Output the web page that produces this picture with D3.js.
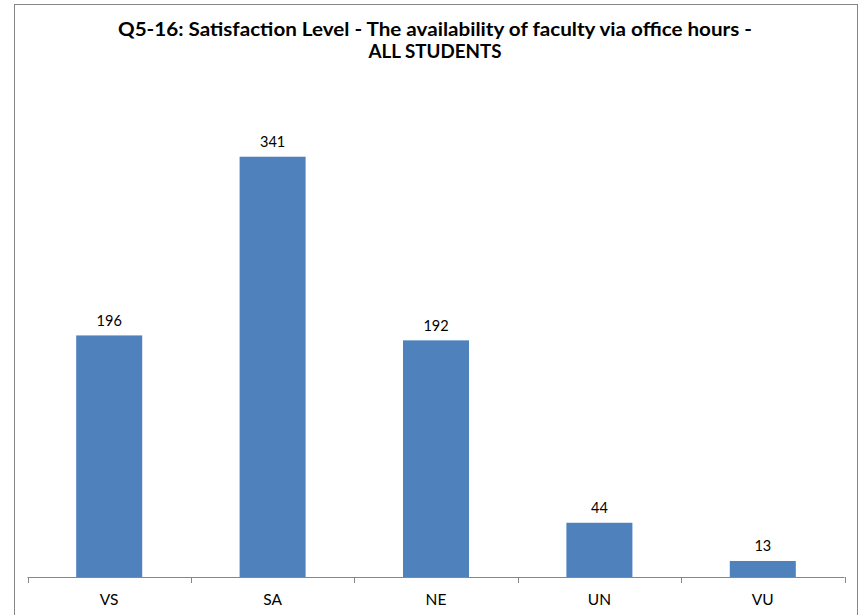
<!DOCTYPE html>
<html>
<head>
<meta charset="utf-8">
<script src="https://cdn.jsdelivr.net/npm/d3@7"></script>
<style>
  html, body { margin: 0; padding: 0; background: #ffffff; }
  svg { display: block; }
</style>
</head>
<body>
<svg id="chart" width="863" height="615"></svg>
<script>
// Responses per satisfaction level
const categories = ["VS", "SA", "NE", "UN", "VU"];
const counts = [196, 341, 192, 44, 13];
const titleLines = [
  "Q5-16: Satisfaction Level - The availability of faculty via office hours -",
  "ALL STUDENTS"
];

const W = 863, H = 615;
const plot = { left: 27.5, right: 844.5, top: 84, bottom: 577 };
const svg = d3.select("#chart");
const font = "Lato, 'Open Sans', sans-serif";

// outer chart border
svg.append("rect")
  .attr("x", 14.5).attr("y", 4.5)
  .attr("width", 843).attr("height", 640)
  .attr("fill", "#ffffff")
  .attr("stroke", "#878787").attr("stroke-width", 1);

const x = d3.scaleBand()
  .domain(categories)
  .range([plot.left, plot.right])
  .paddingInner(0.596).paddingOuter(0.298);

const y = d3.scaleLinear().domain([0, 400]).range([plot.bottom, plot.top]);

// title, stretched slightly to the width of the heading block
const titleWidths = [634, 133];
svg.append("g").selectAll("text")
  .data(titleLines)
  .join("text")
  .attr("x", 435).attr("y", (d, i) => 36 + i * 22)
  .attr("text-anchor", "middle")
  .attr("font-family", font).attr("font-weight", "bold")
  .attr("font-size", 19.5).attr("fill", "#000")
  .attr("textLength", (d, i) => titleWidths[i])
  .attr("lengthAdjust", "spacingAndGlyphs")
  .text(d => d);

// bars
const data = categories.map((c, i) => ({ c, v: counts[i] }));
svg.append("g").selectAll("rect")
  .data(data)
  .join("rect")
  .attr("x", d => x(d.c))
  .attr("y", d => y(d.v))
  .attr("width", x.bandwidth())
  .attr("height", d => y(0) - y(d.v))
  .attr("fill", "#4f81bd");

// value labels
svg.append("g").selectAll("text")
  .data(data)
  .join("text")
  .attr("x", d => x(d.c) + x.bandwidth() / 2)
  .attr("y", d => y(d.v) - 9.5)
  .attr("text-anchor", "middle")
  .attr("font-family", font).attr("font-size", 14.5).attr("fill", "#000")
  .text(d => d.v);

// category axis with tick marks between categories
const axis = svg.append("g").attr("transform", `translate(0,${plot.bottom})`);
axis.append("line")
  .attr("x1", plot.left).attr("x2", plot.right)
  .attr("y1", 0.5).attr("y2", 0.5)
  .attr("stroke", "#878787");
const tickXs = d3.range(categories.length + 1).map(i => plot.left + i * (plot.right - plot.left) / categories.length);
axis.selectAll("line.tick")
  .data(tickXs)
  .join("line").attr("class", "tick")
  .attr("x1", d => Math.round(d) + 0.5).attr("x2", d => Math.round(d) + 0.5)
  .attr("y1", 0).attr("y2", 6)
  .attr("stroke", "#878787");
axis.selectAll("text")
  .data(categories)
  .join("text")
  .attr("x", d => x(d) + x.bandwidth() / 2)
  .attr("y", 28)
  .attr("text-anchor", "middle")
  .attr("font-family", font).attr("font-size", 15.5).attr("fill", "#000")
  .text(d => d);
</script>
</body>
</html>
